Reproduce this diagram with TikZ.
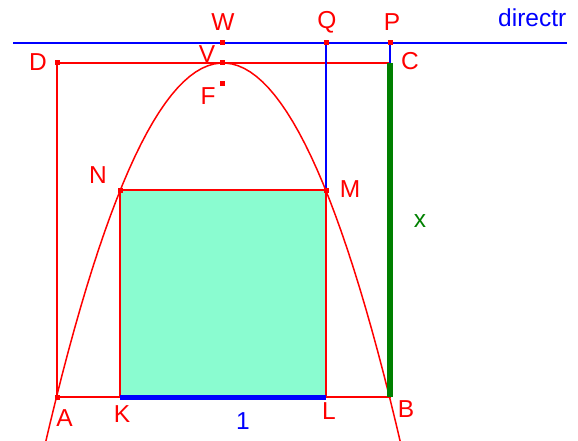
\documentclass[tikz,border=0pt]{standalone}
\usepackage{fontspec}
\setmainfont{Liberation Sans}
\begin{document}
\begin{tikzpicture}[x=1pt,y=-1pt,
  lab/.style={inner sep=0pt,text=red,font=\fontsize{24.5}{28}\selectfont},
  redline/.style={draw=red,line width=1.5pt},
  blueline/.style={draw=blue,line width=1.5pt},
  pt/.style={fill=red,minimum size=5pt,inner sep=0pt,outer sep=0pt,rectangle}]
\useasboundingbox (0,0) rectangle (578,441);
% points
\coordinate (D) at (57,63);
\coordinate (C) at (390,63);
\coordinate (A) at (57,397);
\coordinate (B) at (390,397);
\coordinate (N) at (120,190);
\coordinate (M) at (326,190);
\coordinate (K) at (120,397);
\coordinate (L) at (326,397);
\coordinate (W) at (222,43);
\coordinate (Q) at (326,43);
\coordinate (P) at (390,43);
\coordinate (V) at (222,63);
\coordinate (F) at (222,84);
\coordinate (dl) at (13,43);
\coordinate (dr) at (567,43);
% square
\fill[fill={rgb,255:red,138;green,252;blue,208}] (K) rectangle (M);
\draw[redline] (K) -- (N) -- (M) -- (L);
% rectangle ABCD
\draw[redline] (A) -- (B) -- (C) -- (D) -- cycle;
% blue lines
\draw[blueline] (Q) -- (M);
\draw[blueline] (P) -- (C);
\draw[draw=blue,line width=2pt] (dl) -- (dr);
% parabola
\draw[red,line width=1.5pt] plot[domain=44:402,samples=60] (\x,{63+((\x-223)/10)^2*(100/83)});
% thick segments
\draw[blue,line width=5pt] (K) -- (L);
\draw[green!50!black,line width=6pt] (B) -- (C);
% markers
\foreach \p in {D,A,N,M,W,Q,P,V,F} \node[pt] (m\p) at (\p) {};
% labels
\node[lab] (lW) at (223,22) {W};
\node[lab] (lQ) at (327,22) {Q};
\node[lab] (lP) at (392,22) {P};
\node[lab] (lV) at (207,54) {V};
\node[lab] (lF) at (208,96) {F};
\node[lab] (lD) at (38,62) {D};
\node[lab] (lC) at (410,61) {C};
\node[lab] (lN) at (98,175) {N};
\node[lab] (lM) at (350,189) {M};
\node[lab,text={green!50!black}] (lx) at (420,221) {x};
\node[lab] (lA) at (64.5,418.5) {A};
\node[lab] (lK) at (122,414) {K};
\node[lab,text=blue] (l1) at (243,421) {1};
\node[lab] (lL) at (329,411) {L};
\node[lab] (lB) at (406,409) {B};
\node[lab,text=blue,anchor=base west] (ldir) at (498,27) {directr};
\end{tikzpicture}
\end{document}
